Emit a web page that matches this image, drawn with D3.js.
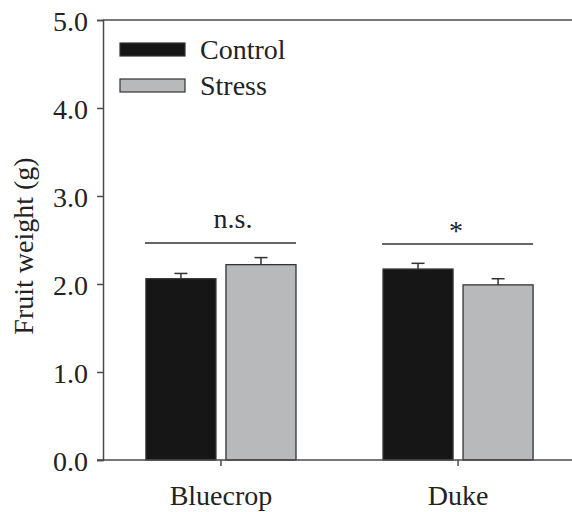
<!DOCTYPE html>
<html><head><meta charset="utf-8">
<script src="https://cdn.jsdelivr.net/npm/d3@7"></script>
<style>
html,body{margin:0;padding:0;background:#fff;}
svg{display:block;}
</style></head>
<body>
<svg id="chart" width="572" height="512"></svg>
<script>
const categories = ["Bluecrop", "Duke"];
const seriesNames = ["Control", "Stress"];
const controlValues = [2.06, 2.17];
const stressValues = [2.22, 1.99];
const controlErrors = [0.06, 0.065];
const stressErrors = [0.08, 0.07];
const yTicks = [0, 1, 2, 3, 4, 5];
const significance = ["n.s.", "*"];

const svg = d3.select("#chart");
const fs = "28px";
const ff = '"Liberation Serif", "Times New Roman", Times';
const textColor = "#222";
const axisColor = "#4a4a4a";
const colors = {Control: "#161616", Stress: "#b8b9ba"};

function styleText(sel) {
  return sel.style("font-family", ff).style("font-size", fs).style("fill", textColor);
}

const y = d3.scaleLinear().domain([0, 5]).range([460, 20]);
const x0 = d3.scaleBand().domain(categories).range([103, 576])
  .paddingInner(0.367).paddingOuter(0.181);
const x1 = d3.scaleBand().domain(seriesNames).range([0, x0.bandwidth()]).paddingInner(0.125);

const data = categories.map((c, i) => ({
  cat: c,
  vals: [
    {s: "Control", v: controlValues[i], e: controlErrors[i]},
    {s: "Stress", v: stressValues[i], e: stressErrors[i]}
  ]
}));

// top frame line
svg.append("line").attr("x1", 103).attr("x2", 572).attr("y1", y(5)).attr("y2", y(5))
  .attr("stroke", axisColor).attr("stroke-width", 1.5);

// bars
const g = svg.selectAll("g.grp").data(data).enter().append("g")
  .attr("transform", d => `translate(${x0(d.cat)},0)`);
g.selectAll("line.err").data(d => d.vals).enter().append("line")
  .attr("x1", d => x1(d.s) + x1.bandwidth() / 2).attr("x2", d => x1(d.s) + x1.bandwidth() / 2)
  .attr("y1", d => y(d.v)).attr("y2", d => y(d.v + d.e))
  .attr("stroke", "#333").attr("stroke-width", 1.5);
g.selectAll("line.cap").data(d => d.vals).enter().append("line")
  .attr("x1", d => x1(d.s) + x1.bandwidth() / 2 - 6.5).attr("x2", d => x1(d.s) + x1.bandwidth() / 2 + 6.5)
  .attr("y1", d => y(d.v + d.e)).attr("y2", d => y(d.v + d.e))
  .attr("stroke", "#333").attr("stroke-width", 1.5);
g.selectAll("rect").data(d => d.vals).enter().append("rect")
  .attr("x", d => x1(d.s)).attr("width", x1.bandwidth())
  .attr("y", d => y(d.v)).attr("height", d => y(0) - y(d.v))
  .attr("fill", d => colors[d.s]).attr("stroke", "#333").attr("stroke-width", 1.3);

// significance lines
categories.forEach((c, i) => {
  const ly = i === 0 ? 243 : 244;
  svg.append("line").attr("x1", x0(c) - 1).attr("x2", x0(c) + x0.bandwidth())
    .attr("y1", ly).attr("y2", ly).attr("stroke", "#333").attr("stroke-width", 1.5);
  styleText(svg.append("text").attr("x", x0(c) + x0.bandwidth() / 2 + (i === 0 ? 12 : -2))
    .attr("y", i === 0 ? 228 : 240).attr("text-anchor", "middle")
    .text(significance[i]));
});

// y axis
const yAxis = d3.axisLeft(y).tickValues(yTicks).tickFormat(d3.format(".1f")).tickSize(6).tickPadding(9);
const ya = svg.append("g").attr("transform", "translate(103,0)").call(yAxis);
ya.select(".domain").attr("stroke", axisColor).attr("stroke-width", 1.5);
ya.selectAll(".tick line").attr("stroke", axisColor).attr("stroke-width", 1.5);
styleText(ya.selectAll(".tick text")).attr("dy", "0.38em");

// x axis
const xAxis = d3.axisBottom(x0).tickSize(6).tickPadding(19);
const xa = svg.append("g").attr("transform", "translate(0,460)").call(xAxis);
xa.select(".domain").attr("d", "M97,0H572").attr("stroke", axisColor).attr("stroke-width", 1.5);
xa.selectAll(".tick line").attr("stroke", axisColor).attr("stroke-width", 1.5);
styleText(xa.selectAll(".tick text"));

// y label
styleText(svg.append("text").attr("transform", "translate(33,246) rotate(-90)")
  .attr("text-anchor", "middle").text("Fruit weight (g)"));

// legend
const leg = svg.selectAll("g.leg").data(seriesNames).enter().append("g")
  .attr("transform", (d, i) => `translate(120,${43 + i * 36})`);
leg.append("rect").attr("width", 65).attr("height", 13)
  .attr("fill", d => colors[d]).attr("stroke", "#333").attr("stroke-width", 1.2);
styleText(leg.append("text").attr("x", 80).attr("y", 6.5).attr("dy", "0.35em").text(d => d));
</script>
</body></html>
